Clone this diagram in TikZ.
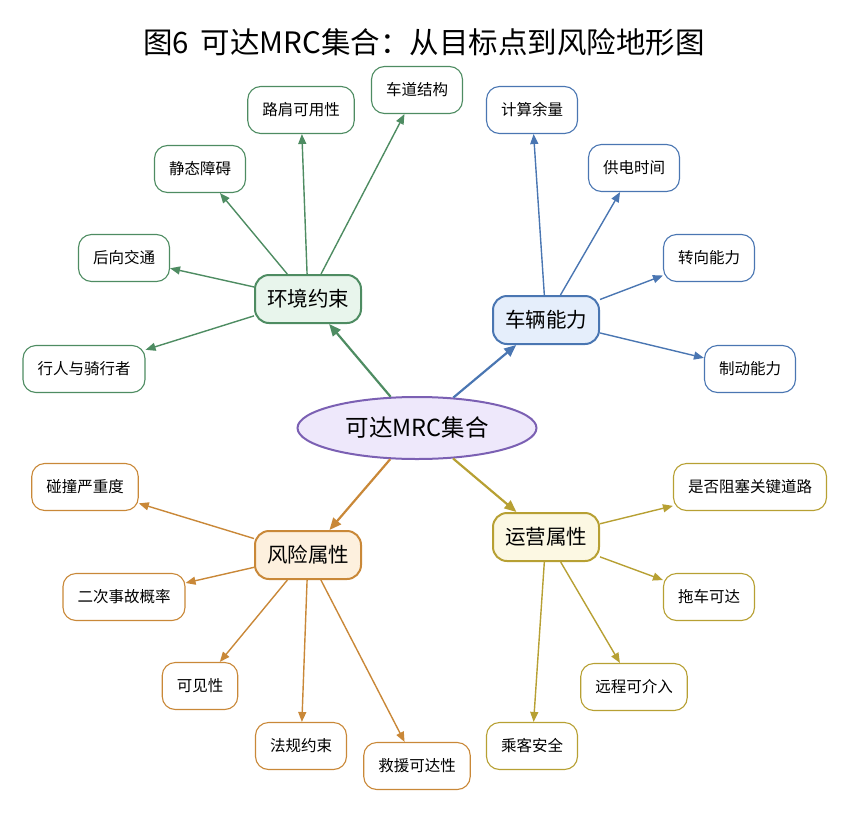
\documentclass[tikz,border=0pt]{standalone}
\usepackage{fontspec}
\setmainfont{Noto Sans CJK SC}
\usetikzlibrary{arrows.meta,shapes.geometric}
\definecolor{gline}{HTML}{4E8C62}
\definecolor{gfill}{HTML}{E8F5EC}
\definecolor{bline}{HTML}{4A76B2}
\definecolor{bfill}{HTML}{E5EEFB}
\definecolor{oline}{HTML}{C98838}
\definecolor{ofill}{HTML}{FDF0DE}
\definecolor{yline}{HTML}{B7A033}
\definecolor{yfill}{HTML}{FCF8E3}
\definecolor{pline}{HTML}{7B60B3}
\definecolor{pfill}{HTML}{EEE8FB}
\tikzset{
  leaf/.style={draw, line width=1.1pt, rounded corners=13pt, fill=white, inner xsep=14.5pt, inner ysep=0pt, minimum height=47pt, font=\fontsize{15.5pt}{18pt}\selectfont},
  hub/.style={draw, line width=2pt, rounded corners=14pt, inner xsep=12pt, inner ysep=0pt, minimum height=48pt, font=\fontsize{20.5pt}{24pt}\selectfont},
  conn/.style={line width=1.4pt, -{Triangle[length=10pt,width=8pt]}},
  mainconn/.style={line width=2.2pt, -{Triangle[length=12pt,width=10pt]}},
}
\begin{document}
\begin{tikzpicture}[x=1pt,y=-1pt]
\useasboundingbox (0,0) rectangle (851,814);
\node[font=\fontsize{29.5pt}{34pt}\selectfont] (title) at (424,42) {图6\hspace{0.4em}可达MRC集合：从目标点到风险地形图};
\node[draw=pline, fill=pfill, ellipse, line width=2pt, minimum width=239pt, minimum height=62pt, inner sep=0pt, font=\fontsize{23.5pt}{27pt}\selectfont] (c) at (417,428) {可达MRC集合};
% hubs
\node[hub, draw=gline, fill=gfill] (env) at (308,299) {环境约束};
\node[hub, draw=bline, fill=bfill] (veh) at (546,320) {车辆能力};
\node[hub, draw=oline, fill=ofill] (risk) at (308,555) {风险属性};
\node[hub, draw=yline, fill=yfill] (ops) at (546,537) {运营属性};
% green leaves
\node[leaf, draw=gline] (g1) at (417,90) {车道结构};
\node[leaf, draw=gline] (g2) at (301,110) {路肩可用性};
\node[leaf, draw=gline] (g3) at (200,169) {静态障碍};
\node[leaf, draw=gline] (g4) at (124,258) {后向交通};
\node[leaf, draw=gline] (g5) at (84,369) {行人与骑行者};
% blue leaves
\node[leaf, draw=bline] (b1) at (532,110) {计算余量};
\node[leaf, draw=bline] (b2) at (634,168) {供电时间};
\node[leaf, draw=bline] (b3) at (709,258) {转向能力};
\node[leaf, draw=bline] (b4) at (750,369) {制动能力};
% orange leaves
\node[leaf, draw=oline] (o1) at (85,487) {碰撞严重度};
\node[leaf, draw=oline] (o2) at (124,597) {二次事故概率};
\node[leaf, draw=oline] (o3) at (200,686) {可见性};
\node[leaf, draw=oline] (o4) at (301,746) {法规约束};
\node[leaf, draw=oline] (o5) at (417,766) {救援可达性};
% yellow leaves
\node[leaf, draw=yline] (y1) at (750,487) {是否阻塞关键道路};
\node[leaf, draw=yline] (y2) at (709,597) {拖车可达};
\node[leaf, draw=yline] (y3) at (634,687) {远程可介入};
\node[leaf, draw=yline] (y4) at (532,746) {乘客安全};
% edges
\draw[mainconn, gline] (c) -- (env);
\draw[mainconn, bline] (c) -- (veh);
\draw[mainconn, oline] (c) -- (risk);
\draw[mainconn, yline] (c) -- (ops);
\foreach \t in {g1,g2,g3,g4,g5} \draw[conn, gline] (env) -- (\t);
\foreach \t in {b1,b2,b3,b4} \draw[conn, bline] (veh) -- (\t);
\foreach \t in {o1,o2,o3,o4,o5} \draw[conn, oline] (risk) -- (\t);
\foreach \t in {y1,y2,y3,y4} \draw[conn, yline] (ops) -- (\t);
\end{tikzpicture}
\end{document}
